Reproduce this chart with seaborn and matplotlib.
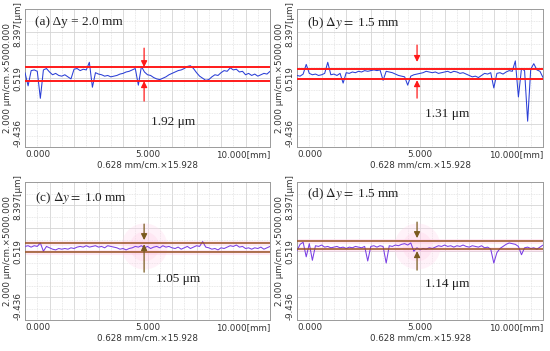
import numpy as np
import pandas as pd
import matplotlib
matplotlib.use("Agg")
import matplotlib.pyplot as plt
import seaborn as sns

# profile position along the scan [mm], 0.125 mm steps
x_mm = np.arange(81) * 0.125

# profile heights (axis units)
trace_a = [1.3, -0.6, 1.6, 1.7, 1.5, -2.4, 1.7, 1.9, 1.4, 1.0,
           1.2, 0.9, 0.8, 1.0, 0.7, 0.4, 1.8, 1.9, 1.6, 1.8,
           1.7, 2.8, -0.8, 1.3, 1.1, 1.0, 0.8, 0.9, 0.7, 0.8,
           0.9, 1.1, 1.2, 1.4, 1.5, 1.7, 1.9, -0.5, 2.2, 1.4,
           1.0, 0.9, 0.6, 0.4, 0.3, 0.5, 0.7, 1.0, 1.2, 1.4,
           1.6, 1.7, 1.9, 2.2, 2.3, 1.9, 1.3, 0.8, 0.5, 0.2,
           0.3, 0.7, 1.0, 0.9, 1.3, 1.6, 1.5, 2.0, 1.7, 1.8,
           1.4, 1.5, 1.0, 1.2, 0.9, 1.1, 0.8, 1.0, 1.2, 1.1, 1.5]
trace_b = [0.9, 0.8, 1.1, 2.5, 1.2, 1.0, 1.1, 0.9, 1.0, 1.2,
           2.8, 1.0, 1.1, 0.9, 1.2, -0.2, 1.3, 1.2, 1.4, 1.3,
           1.5, 1.4, 1.6, 1.5, 1.6, 1.7, 1.6, 1.7, 0.2, 1.5,
           1.4, 1.3, 1.1, 0.9, 0.8, 0.7, -0.5, 0.8, 1.0, 1.1,
           1.2, 1.3, 1.5, 1.4, 1.3, 1.4, 1.2, 1.3, 1.4, 1.5,
           1.3, 1.5, 1.4, 1.2, 1.3, 1.1, 0.9, 0.7, 0.8, 0.6,
           0.9, 1.2, 1.1, 1.3, -0.9, 1.2, 1.3, 1.1, 1.4, 1.6,
           1.5, 3.0, -2.2, 1.9, 1.6, -5.7, 1.8, 2.6, 1.7, 1.5, 0.6]
trace_c = [1.2, 1.3, 1.1, 1.3, 1.2, 1.7, 0.5, 1.2, 1.0, 0.8,
           0.7, 0.9, 0.8, 0.9, 0.8, 1.0, 0.9, 1.1, 1.2, 1.1,
           1.3, 1.1, 1.2, 1.3, 1.1, 1.2, 1.0, 1.3, 1.2, 1.1,
           1.0, 0.8, 0.9, 0.7, 0.9, 1.0, 1.2, 1.1, 1.3, 1.0,
           1.2, 0.9, 1.1, 1.2, 1.0, 1.3, 1.1, 1.2, 1.0, 0.9,
           1.1, 0.8, 1.0, 1.2, 0.9, 1.1, 1.3, 1.2, 1.9, 1.1,
           1.0, 0.8, 0.9, 0.7, 1.0, 0.9, 1.1, 1.3, 1.2, 1.4,
           1.1, 1.2, 0.9, 1.0, 0.8, 1.0, 0.9, 1.1, 0.8, 1.0, 1.2]
trace_d = [0.6, 1.5, 1.8, -0.3, 1.6, -0.8, 1.3, 1.2, 1.4, 1.1,
           1.2, 1.0, 1.1, 1.2, 1.0, 1.1, 0.9, 1.1, 1.0, 1.2,
           1.1, 1.0, 1.2, -0.9, 1.2, 1.3, 1.1, 1.3, 1.2, -1.2,
           1.3, 1.2, 1.4, 1.3, 1.5, 1.6, 1.4, 1.7, 0.5, 1.0,
           0.7, 0.9, 0.8, 1.0, 0.9, 1.1, 1.3, 1.2, 1.4, 1.2,
           1.3, 1.1, 1.3, 1.2, 1.4, 1.2, 1.1, 1.3, 1.2, 1.1,
           1.3, 1.0, 1.1, 0.8, -1.2, 0.3, 0.9, 1.2, 1.5, 1.7,
           1.6, 1.5, 1.2, 0.0, 1.0, 1.1, 0.9, 1.0, 0.8, 1.1, 1.4]

panel_titles = ["(a) Δy = 2.0 mm", r"(b) $\Delta y=$ 1.5 mm",
                r"(c) $\Delta y=$ 1.0 mm", r"(d) $\Delta y=$ 1.5 mm"]
gap_labels = ["1.92 μm", "1.31 μm", "1.05 μm", "1.14 μm"]
band_top = [2.10, 1.81, 1.67, 1.96]
band_bottom = [0.08, 0.37, 0.38, 0.81]
arrow_x = [4.86, 4.88, 4.86, 4.88]
arrow_top = [(4.84, 2.10), (5.28, 2.85), (4.42, 2.11), (4.71, 2.40)]
arrow_bottom = [(-2.80, 0.08), (-2.37, 0.22), (-2.51, 1.53), (-2.22, 0.52)]
label_pos = [(6.04, -5.83), (6.10, -4.68), (6.24, -3.52), (6.10, -4.24)]

y_ticks = [-9.436, 0.519, 8.397]
y_ticklabels = ["-9.436", "0.519", "8.397[μm]"]
x_ticks = [0, 5, 10]
x_ticklabels = ["0.000", "5.000", "10.000[mm]"]
y_lim = (-9.436, 10.474)
x_lim = (0, 10)

sns.set_style("white")
plt.rcParams["font.family"] = ["DejaVu Sans"]
plt.rcParams["mathtext.fontset"] = "stix"

fig = plt.figure(figsize=(5.5, 3.51), dpi=100)
boxes = [[0.0455, 0.581, 0.4455, 0.393], [0.540, 0.581, 0.4473, 0.393],
         [0.0455, 0.088, 0.4455, 0.393], [0.540, 0.088, 0.4473, 0.393]]
traces = [trace_a, trace_b, trace_c, trace_d]
title_y = [0.906, 0.90, 0.884, 0.913]

for k in range(4):
    ax = fig.add_axes(boxes[k])
    ax.set_xlim(x_lim)
    ax.set_ylim(y_lim)

    # grid like the profilometer screen: solid and dotted alternating
    for j, gx in enumerate(np.arange(0.5, 10, 0.5)):
        ax.axvline(gx, color="#d4d4d4" if j % 2 else "#e2e2e2", lw=0.6,
                   ls="-" if j % 2 else (0, (1, 1)), zorder=0)
    for j, gy in enumerate(np.linspace(y_lim[0], y_lim[1], 13)[1:-1]):
        ax.axhline(gy, color="#d4d4d4" if j % 2 else "#e2e2e2", lw=0.6,
                   ls="-" if j % 2 else (0, (1, 1)), zorder=0)

    df = pd.DataFrame({"x": x_mm, "h": traces[k]})
    if k < 2:
        sns.lineplot(data=df, x="x", y="h", ax=ax, color="#2b3fd6", lw=0.75, zorder=3)
        for yb in (band_top[k], band_bottom[k]):
            ax.axhline(yb, color="#ff1a1a", lw=1.4, zorder=4)
        acol = "#ff1a1a"
    else:
        # faint pink glow around the band and the arrows
        ax.scatter([arrow_x[k]], [1.2], s=1100, color="#ffd6ec", alpha=0.3, lw=0, zorder=1)
        ax.scatter([arrow_x[k]], [1.2], s=450, color="#ffc8e4", alpha=0.25, lw=0, zorder=1)
        for yb in (band_top[k], band_bottom[k]):
            ax.axhline(yb, color="#ffc0e0", lw=3.5, alpha=0.35, zorder=2)
        sns.lineplot(data=df, x="x", y="h", ax=ax, color="#7a3fe4", lw=0.75, zorder=3)
        for yb in (band_top[k], band_bottom[k]):
            ax.axhline(yb, color="#9a5222", lw=1.1, zorder=4)
        acol = "#7a5a1e"

    for tail, tip in (arrow_top[k], arrow_bottom[k]):
        ax.annotate("", xy=(arrow_x[k], tip), xytext=(arrow_x[k], tail),
                    arrowprops=dict(arrowstyle="-|>", color=acol, lw=0.9,
                                    mutation_scale=9, shrinkA=0, shrinkB=0),
                    zorder=5)

    ax.text(0.04, title_y[k], panel_titles[k], transform=ax.transAxes, ha="left", va="center",
            fontsize=9.5, family="Liberation Serif", color="#222222")
    ax.text(label_pos[k][0], label_pos[k][1], gap_labels[k], ha="center", va="center",
            fontsize=9.5, family="Liberation Serif", color="#222222")

    ax.set_yticks(y_ticks)
    ax.set_yticklabels(y_ticklabels, rotation=90, fontsize=6.3, color="#333333")
    for lab, va in zip(ax.get_yticklabels(), ["bottom", "center", "center"]):
        lab.set_va(va)
    ax.set_xticks(x_ticks)
    ax.set_xticklabels(x_ticklabels, fontsize=6.3, color="#333333")
    for lab, ha in zip(ax.get_xticklabels(), ["left", "center", "right"]):
        lab.set_ha(ha)
    ax.tick_params(length=0, pad=2)
    ax.set_xlabel("0.628 mm/cm.×15.928", fontsize=6.3, color="#333333", labelpad=1)
    ax.set_ylabel("2.000 μm/cm.×5000.000", fontsize=6.3, color="#333333", labelpad=1)
    for sp in ax.spines.values():
        sp.set_color("#9a9a9a")
        sp.set_linewidth(0.7)

fig.savefig("out.png", dpi=100)
